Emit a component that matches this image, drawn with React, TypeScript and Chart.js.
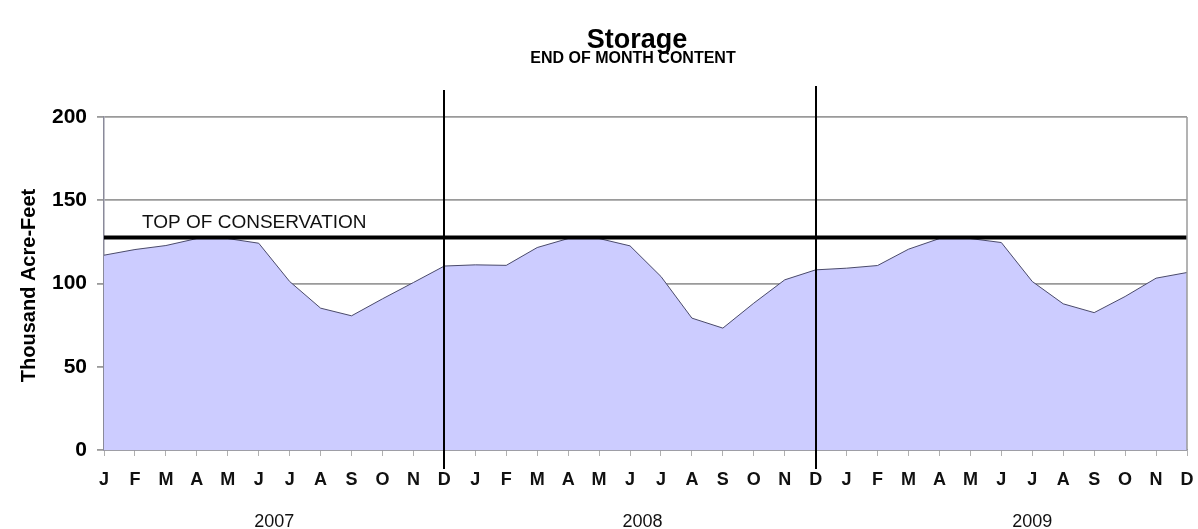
import React, { useEffect, useRef } from "react";
import { Chart, registerables } from "chart.js";

Chart.register(...registerables);

const MONTHS = ["J", "F", "M", "A", "M", "J", "J", "A", "S", "O", "N", "D"];
const YEARS = ["2007", "2008", "2009"];
const CATEGORIES = [...MONTHS, ...MONTHS, ...MONTHS];

const STORAGE_2007 = [117.0, 120.4, 122.8, 127.0, 127.0, 124.2, 101.2, 85.2, 80.6, 90.8, 100.6, 110.5];
const STORAGE_2008 = [111.2, 110.9, 121.6, 127.0, 127.0, 122.6, 104.2, 79.2, 73.2, 88.2, 102.2, 108.2];
const STORAGE_2009 = [109.2, 110.8, 120.6, 127.0, 127.0, 124.6, 101.2, 87.8, 82.5, 92.2, 103.2, 106.6];
const STORAGE = [...STORAGE_2007, ...STORAGE_2008, ...STORAGE_2009];

const TOP_OF_CONSERVATION = 127.6;
const Y_TICKS = [0, 50, 100, 150, 200];
const YEAR_DIVIDERS = [11, 23];
const YEAR_LABEL_POS = [5.5, 17.4, 30];

const FONT = "'Liberation Sans', Arial, Helvetica, sans-serif";

const overlay = {
  id: "overlay",
  beforeDraw(chart: any) {
    const { ctx, width, height } = chart;
    ctx.save();
    ctx.fillStyle = "#ffffff";
    ctx.fillRect(0, 0, width, height);
    ctx.restore();
  },
  afterDatasetsDraw(chart: any) {
    const { ctx, chartArea, scales } = chart;
    const x = scales.x;
    ctx.save();
    // right border of plot
    ctx.strokeStyle = "#9a9a9a";
    ctx.lineWidth = 1.5;
    ctx.beginPath();
    ctx.moveTo(chartArea.right, chartArea.top);
    ctx.lineTo(chartArea.right, chartArea.bottom);
    ctx.stroke();
    // year dividers
    const tops = [90, 86];
    ctx.strokeStyle = "#000000";
    ctx.lineWidth = 2;
    YEAR_DIVIDERS.forEach((idx, i) => {
      const px = Math.round(x.getPixelForValue(idx));
      ctx.beginPath();
      ctx.moveTo(px, tops[i]);
      ctx.lineTo(px, 469);
      ctx.stroke();
    });
    ctx.restore();
  },
  afterDraw(chart: any) {
    const { ctx, chartArea, scales } = chart;
    const x = scales.x;
    const y = scales.y;
    ctx.save();
    ctx.fillStyle = "#000000";
    ctx.textAlign = "center";
    ctx.textBaseline = "alphabetic";
    ctx.font = `bold 27px ${FONT}`;
    ctx.fillText("Storage", 637, 48);
    ctx.font = `bold 16px ${FONT}`;
    ctx.fillText("END OF MONTH CONTENT", 633, 63);

    // conservation label
    ctx.textAlign = "left";
    ctx.font = `19px ${FONT}`;
    ctx.fillStyle = "#111111";
    ctx.fillText("TOP OF CONSERVATION", 142, y.getPixelForValue(TOP_OF_CONSERVATION) - 10);

    // year labels
    ctx.textAlign = "center";
    ctx.font = `18px ${FONT}`;
    YEARS.forEach((yr, i) => {
      ctx.fillText(yr, x.getPixelForValue(YEAR_LABEL_POS[i]), 527);
    });

    // y axis title
    ctx.translate(29, (chartArea.top + chartArea.bottom) / 2 + 2);
    ctx.rotate(-Math.PI / 2);
    ctx.font = `bold 20px ${FONT}`;
    ctx.textBaseline = "middle";
    ctx.fillStyle = "#000000";
    ctx.fillText("Thousand Acre-Feet", 0, 0);
    ctx.restore();
  },
};

export default function App() {
  const ref = useRef<HTMLCanvasElement | null>(null);
  useEffect(() => {
    if (!ref.current) return;
    const chart = new Chart(ref.current, {
      type: "line",
      data: {
        labels: CATEGORIES,
        datasets: [
          {
            label: "Top of Conservation",
            data: CATEGORIES.map(() => TOP_OF_CONSERVATION),
            borderColor: "#000000",
            borderWidth: 4,
            pointRadius: 0,
            fill: false,
            order: 1,
            tension: 0,
          },
          {
            label: "Storage",
            data: STORAGE,
            borderColor: "#4a4a6a",
            borderWidth: 1,
            backgroundColor: "#ccccff",
            pointRadius: 0,
            fill: "origin",
            order: 2,
            tension: 0,
          },
        ],
      },
      options: {
        animation: false,
        responsive: false,
        devicePixelRatio: 1,
        layout: { padding: { top: 117, right: 11, left: 0, bottom: 0 } },
        plugins: {
          legend: { display: false },
          title: { display: false },
          tooltip: { enabled: false },
        },
        scales: {
          x: {
            type: "category",
            offset: false,
            grid: {
              display: true,
              drawOnChartArea: false,
              drawTicks: true,
              tickLength: 6,
              tickColor: "#b0b0b0",
            },
            border: { display: true, color: "#8a8a9a", width: 1.5 },
            ticks: {
              autoSkip: false,
              maxRotation: 0,
              minRotation: 0,
              padding: 13,
              color: "#111111",
              font: { family: FONT, size: 18, weight: "bold" },
            },
            afterFit(scale: any) {
              scale.height = 79;
              scale.paddingLeft = 0;
              scale.paddingRight = 0;
            },
          },
          y: {
            min: 0,
            max: 200,
            afterBuildTicks(scale: any) {
              scale.ticks = Y_TICKS.map((v) => ({ value: v }));
            },
            grid: {
              color: "#9a9a9a",
              lineWidth: 1.8,
              tickLength: 7,
              tickColor: "#9a9a9a",
            },
            border: { display: true, color: "#8a8a9a", width: 1.5 },
            ticks: {
              padding: 10,
              color: "#000000",
              font: { family: FONT, size: 21, weight: "bold" },
            },
            afterFit(scale: any) {
              scale.width = 104;
              scale.paddingTop = 0;
              scale.paddingBottom = 0;
            },
          },
        },
      },
      plugins: [overlay],
    });
    return () => chart.destroy();
  }, []);
  return (
    <div style={{ position: "absolute", left: 0, top: 0, width: 1198, height: 529 }}>
      <canvas ref={ref} width={1198} height={529} style={{ width: 1198, height: 529, display: "block" }} />
    </div>
  );
}
